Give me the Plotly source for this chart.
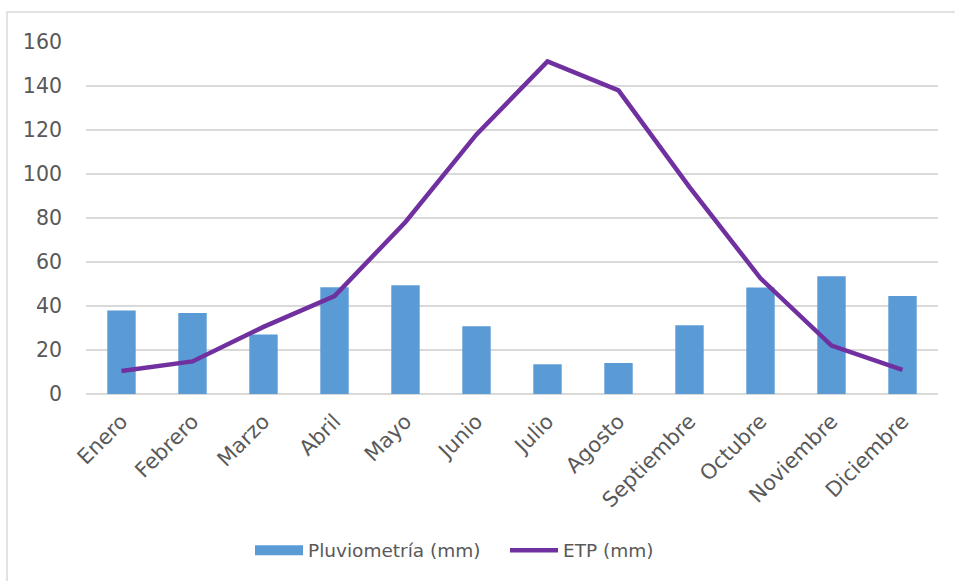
import plotly.graph_objects as go

meses = ["Enero", "Febrero", "Marzo", "Abril", "Mayo", "Junio", "Julio",
         "Agosto", "Septiembre", "Octubre", "Noviembre", "Diciembre"]
pluviometria = [37.9, 36.8, 27.0, 48.5, 49.4, 30.8, 13.5, 14.1, 31.2, 48.4, 53.5, 44.5]
etp = [10.5, 14.8, 30.5, 44.5, 78.2, 118.0, 151.2, 138.0, 94.0, 52.6, 22.0, 11.0]
y_ticks = [0, 20, 40, 60, 80, 100, 120, 140, 160]

FONT = "Verdana, DejaVu Sans, sans-serif"
TXT = "#595959"
BLUE = "#5B9BD5"
PURPLE = "#7030A0"

fig = go.Figure()
fig.add_trace(go.Bar(x=meses, y=pluviometria, name="Pluviometría (mm)",
                     marker=dict(color=BLUE, line=dict(width=0)), showlegend=False))
# legend entry for the bars, drawn as a wide swatch like the original
fig.add_trace(go.Scatter(x=[None], y=[None], name="Pluviometría (mm)", mode="lines",
                         line=dict(color=BLUE, width=12), showlegend=True))
fig.add_trace(go.Scatter(x=meses, y=etp, name="ETP (mm)", mode="lines",
                         line=dict(color=PURPLE, width=4.5)))

fig.update_layout(
    width=955, height=581,
    margin=dict(l=86, r=17, t=42, b=187),
    paper_bgcolor="white", plot_bgcolor="white",
    font=dict(family=FONT, size=20, color=TXT),
    bargap=0.6,
    showlegend=True,
    legend=dict(orientation="h", x=(250 - 86) / 852, xanchor="left", y=-0.445, yanchor="middle",
                font=dict(size=18.5, color=TXT), itemwidth=48, traceorder="normal",
                entrywidth=192, entrywidthmode="pixels"),
    xaxis=dict(tickangle=-45, showgrid=False, showline=False, ticks="",
               tickfont=dict(size=21, color=TXT), automargin=False, ticklabelstandoff=10),
    yaxis=dict(range=[0, 160], tickvals=y_ticks, showgrid=True, gridcolor="#D9D9D9",
               gridwidth=1.5, zeroline=True, zerolinecolor="#D9D9D9", zerolinewidth=1.5,
               showline=False, ticks="", ticklabelstandoff=23,
               tickfont=dict(size=20.5, color=TXT), automargin=False),
    shapes=[dict(type="rect", xref="paper", yref="paper",
                 x0=-0.0927, x1=1.05, y0=-0.6, y1=1.085,
                 line=dict(color="#D9D9D9", width=1.5), fillcolor="rgba(0,0,0,0)",
                 layer="below")],
)

fig.write_html("out.html", config={"displayModeBar": False},
               post_script="document.body.style.margin='0';document.body.style.padding='0';")
